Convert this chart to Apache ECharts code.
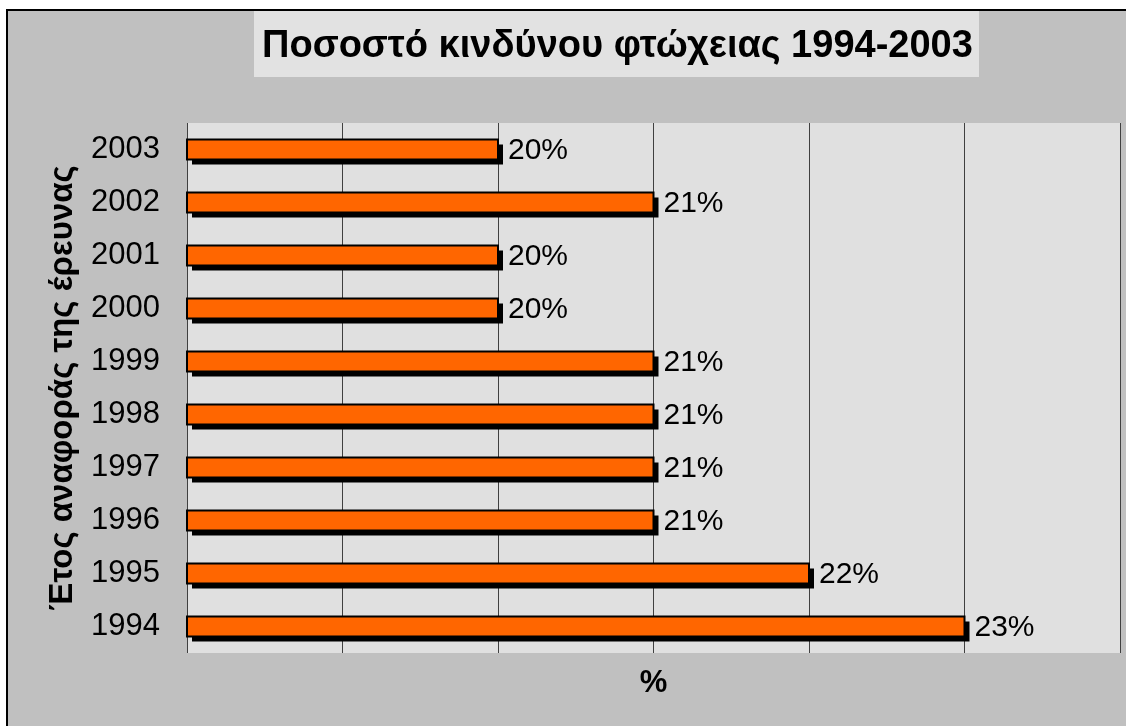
<!DOCTYPE html>
<html>
<head>
<meta charset="utf-8">
<script src="https://cdn.jsdelivr.net/npm/echarts@6/dist/echarts.min.js"></script>
<style>
html,body{margin:0;padding:0;background:#ffffff;}
#frame{position:absolute;left:6px;top:9px;width:1200px;height:800px;background:#c0c0c0;border:2px solid #000;}
#chart{position:absolute;left:0;top:0;width:1126px;height:726px;}
</style>
</head>
<body>
<div id="frame"></div>
<div id="chart"></div>
<script>
const titleText = 'Ποσοστό κινδύνου φτώχειας 1994-2003';
const yAxisTitle = 'Έτος αναφοράς της έρευνας';
const xAxisTitle = '%';
const years = ['1994','1995','1996','1997','1998','1999','2000','2001','2002','2003'];
const rates = [23, 22, 21, 21, 21, 21, 20, 20, 21, 20];
const xMin = 18, xMax = 24, xStep = 1;

const chart = echarts.init(document.getElementById('chart'), null, {renderer:'canvas'});

function renderBar(params, api) {
  const v = api.value(0);
  const cat = api.value(1);
  const start = api.coord([xMin, cat]);
  const end = api.coord([v, cat]);
  const h = 20;
  const x0 = start[0], x1 = end[0], yc = end[1];
  return {
    type: 'group',
    children: [
      {type:'rect', shape:{x:x0 + 5, y:yc - h/2 + 5, width:x1 - x0, height:h}, style:{fill:'#000'}},
      {type:'rect', shape:{x:x0, y:yc - h/2, width:x1 - x0, height:h}, style:{fill:'#ff6600', stroke:'#000', lineWidth:2}},
      {type:'text', style:{text: v + '%', x: x1 + 10, y: yc + 1, align:'left', verticalAlign:'middle',
        fontFamily:'Liberation Sans', fontSize:30, fill:'#000'}}
    ]
  };
}

chart.setOption({
  backgroundColor: 'transparent',
  animation: false,
  title: {
    text: titleText,
    left: 257,
    top: 23,
    textStyle: {fontFamily:'Liberation Sans', fontWeight:'bold', fontSize:38, color:'#000'}
  },
  graphic: [
    {type:'rect', z:-5, shape:{x:254, y:11, width:725, height:66}, style:{fill:'#e2e2e2'}}
  ],
  grid: {left:187, right:6, top:123, bottom:73, show:true, backgroundColor:'#e0e0e0', borderWidth:0},
  xAxis: {
    type:'value', min:xMin, max:xMax, interval:xStep,
    name: xAxisTitle, nameLocation:'middle', nameGap:15,
    nameTextStyle:{fontFamily:'Liberation Sans', fontWeight:'bold', fontSize:31, color:'#000'},
    axisLine:{show:false}, axisTick:{show:false}, axisLabel:{show:false},
    splitLine:{show:true, lineStyle:{color:'#404040', width:1}}
  },
  yAxis: {
    type:'category', data: years,
    name: yAxisTitle, nameLocation:'middle', nameGap:108, nameRotate:90,
    nameTextStyle:{fontFamily:'Liberation Sans', fontWeight:'bold', fontSize:33, color:'#000'},
    axisLine:{show:false}, axisTick:{show:false},
    axisLabel:{fontFamily:'Liberation Sans', fontSize:31, color:'#000', margin:27}
  },
  series: [{
    type:'custom',
    renderItem: renderBar,
    encode: {x:0, y:1},
    data: years.map((y, i) => [rates[i], y])
  }]
});
</script>
</body>
</html>
